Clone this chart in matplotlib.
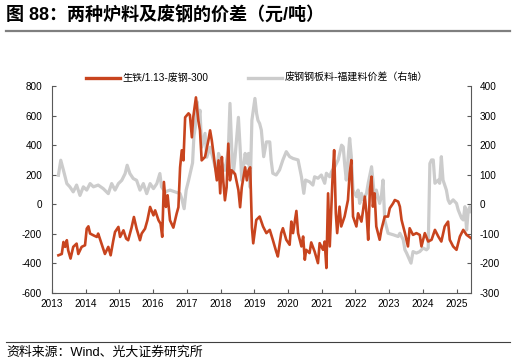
import numpy as np
import matplotlib.pyplot as plt
from matplotlib.lines import Line2D

plt.rcParams['font.family'] = ['Liberation Sans', 'Noto Sans CJK SC']
plt.rcParams['axes.unicode_minus'] = False

# 生铁/1.13-废钢-300 (left axis), decimal year
red_t = [2013.19, 2013.29, 2013.34, 2013.39, 2013.44, 2013.48, 2013.55, 2013.63, 2013.73, 2013.78,
         2013.88, 2013.98, 2014.03, 2014.08, 2014.13, 2014.23, 2014.33, 2014.37, 2014.47, 2014.57,
         2014.67, 2014.74, 2014.82, 2014.87, 2014.97, 2015.02, 2015.12, 2015.20, 2015.26, 2015.36,
         2015.43, 2015.51, 2015.61, 2015.66, 2015.76, 2015.83, 2015.91, 2016.01, 2016.06, 2016.16,
         2016.22, 2016.27, 2016.32, 2016.38, 2016.43, 2016.50, 2016.60, 2016.70, 2016.75, 2016.80,
         2016.85, 2016.90, 2016.95, 2017.05, 2017.09, 2017.15, 2017.19, 2017.27, 2017.34, 2017.39,
         2017.44, 2017.54, 2017.64, 2017.69, 2017.74, 2017.79, 2017.84, 2017.89, 2017.94, 2017.99,
         2018.04, 2018.08, 2018.13, 2018.18, 2018.23, 2018.28, 2018.33, 2018.43, 2018.53, 2018.58,
         2018.63, 2018.73, 2018.78, 2018.83, 2018.88, 2018.93, 2018.97, 2019.06, 2019.16, 2019.26,
         2019.36, 2019.46, 2019.55, 2019.65, 2019.70, 2019.80, 2019.85, 2019.95, 2020.05, 2020.10,
         2020.15, 2020.25, 2020.30, 2020.40, 2020.45, 2020.50, 2020.54, 2020.64, 2020.69, 2020.79,
         2020.89, 2020.94, 2021.04, 2021.09, 2021.14, 2021.19, 2021.24, 2021.32, 2021.37, 2021.42,
         2021.46, 2021.53, 2021.58, 2021.68, 2021.78, 2021.83, 2021.88, 2021.93, 2022.03, 2022.08,
         2022.18, 2022.23, 2022.28, 2022.33, 2022.38, 2022.43, 2022.48, 2022.52, 2022.57, 2022.62,
         2022.72, 2022.77, 2022.87, 2022.97, 2023.02, 2023.12, 2023.17, 2023.27, 2023.32, 2023.37,
         2023.47, 2023.56, 2023.61, 2023.71, 2023.81, 2023.91, 2023.96, 2024.06, 2024.16, 2024.26,
         2024.36, 2024.46, 2024.55, 2024.65, 2024.75, 2024.80, 2024.90, 2025.00, 2025.10, 2025.20,
         2025.30, 2025.43]
red_v = [-345, -336, -255, -288, -243, -311, -367, -288, -266, -336,
         -288, -277, -165, -149, -198, -210, -221, -198, -266, -336,
         -288, -345, -243, -187, -153, -221, -176, -232, -243, -158,
         -86, -165, -243, -198, -165, -108, -18, -75, -41, -108,
         -131, -220, 151, -18, 61, -108, -158, -61, -20, 250,
         365, 297, 588, 615, 604, 453, 588, 723, 568, 500,
         297, 320, 433, 500, 433, 345, 250, 162, 297, 74,
         320, 162, 27, 115, 410, 162, 230, 205, 95, -20,
         115, 250, 162, 230, 250, -155, -264, -106, -83, -150,
         -195, -173, -240, -319, -353, -195, -162, -240, -274, -117,
         -195, -45, -195, -285, -218, -375, -308, -330, -258, -319,
         -398, -263, -308, -252, -431, 74, -285, 164, 366, -61,
         -195, -16, -150, -83, 29, 209, 299, -83, -150, -61,
         -117, -38, 52, -61, -240, 97, 187, -16, 74, -150,
         -240, -173, -83, -83, -27, 7, 29, 18, -16, -106,
         -195, -285, -162, -207, -195, -207, -285, -195, -252, -240,
         -173, -218, -252, -150, -117, -240, -285, -308, -218, -173,
         -207, -229]

# 废钢钢板料-福建料价差 (right axis)
grey_t = [2013.19, 2013.26, 2013.34, 2013.44, 2013.53, 2013.63, 2013.73, 2013.83, 2013.93, 2014.03,
          2014.13, 2014.23, 2014.37, 2014.52, 2014.67, 2014.77, 2014.87, 2014.97, 2015.07, 2015.17,
          2015.23, 2015.31, 2015.41, 2015.51, 2015.61, 2015.71, 2015.81, 2015.91, 2016.01, 2016.11,
          2016.20, 2016.25, 2016.35, 2016.50, 2016.65, 2016.80, 2016.85, 2016.92, 2016.98, 2017.05,
          2017.12, 2017.17, 2017.21, 2017.25, 2017.31, 2017.34, 2017.39, 2017.44, 2017.54, 2017.59,
          2017.69, 2017.79, 2017.89, 2017.94, 2018.04, 2018.13, 2018.23, 2018.28, 2018.33, 2018.38,
          2018.43, 2018.53, 2018.58, 2018.63, 2018.73, 2018.78, 2018.83, 2018.88, 2018.93, 2019.02,
          2019.07, 2019.11, 2019.16, 2019.21, 2019.28, 2019.36, 2019.46, 2019.50, 2019.55, 2019.65,
          2019.75, 2019.85, 2019.95, 2020.05, 2020.15, 2020.30, 2020.40, 2020.47, 2020.52, 2020.64,
          2020.74, 2020.79, 2020.89, 2020.99, 2021.09, 2021.14, 2021.24, 2021.29, 2021.39, 2021.49,
          2021.59, 2021.64, 2021.68, 2021.73, 2021.78, 2021.83, 2021.88, 2021.93, 2022.03, 2022.08,
          2022.13, 2022.18, 2022.23, 2022.33, 2022.38, 2022.48, 2022.52, 2022.57, 2022.62, 2022.72,
          2022.77, 2022.82, 2022.87, 2022.97, 2023.12, 2023.27, 2023.32, 2023.42, 2023.47, 2023.52,
          2023.61, 2023.65, 2023.71, 2023.81, 2023.91, 2024.01, 2024.11, 2024.16, 2024.21, 2024.26,
          2024.31, 2024.36, 2024.46, 2024.50, 2024.55, 2024.60, 2024.70, 2024.75, 2024.80, 2024.90,
          2025.00, 2025.05, 2025.15, 2025.20, 2025.25, 2025.30, 2025.35, 2025.40, 2025.43]
grey_v = [98, 149, 115, 70, 59, 42, 65, 30, 59, 48,
          70, 59, 65, 53, 36, 70, 48, 70, 81, 104,
          132, 104, 87, 81, 48, 70, 36, 70, 53, 70,
          104, 59, 42, 48, 42, 36, 19, -15, 48, 80,
          115, 140, 230, 260, 346, 284, 318, 193, 240, 159,
          193, 149, 105, 172, 139, 115, 182, 341, 193, 105,
          159, 294, 193, 81, 172, 139, 172, 57, 284, 358,
          307, 284, 273, 251, 161, 211, 211, 150, 105, 99,
          116, 150, 178, 161, 155, 150, 93, 37, 82, 76,
          65, 93, 88, 99, 71, 105, 93, 110, 127, 150,
          200, 194, 138, 82, 150, 223, 161, 48, 26, 48,
          3, 37, 15, 37, 71, 127, 82, 15, 48, 3,
          26, 82, -53, -98, -103, -109, -98, -120, -154, -165,
          -188, -199, -160, -165, -160, -148, -154, -148, 138, 150,
          150, 71, 82, 71, 161, 82, 48, 15, 3, 15,
          3, -19, -47, -53, -8, -87, -19, -8, -25]

years = list(range(2013, 2026))
red_label = '生铁/1.13-废钢-300'
grey_label = '废钢钢板料-福建料价差（右轴）'

RED = '#C8441E'
GREY = '#CCCCCC'
SPINE = '#595959'

fig = plt.figure(figsize=(5.16, 3.63), dpi=100)
ax = fig.add_axes([52/516, 1-293/363, (471-52)/516, (293-86)/363])
ax2 = ax.twinx()
ax.set_zorder(ax2.get_zorder() + 1)
ax.patch.set_visible(False)

ax2.plot(grey_t, grey_v, color=GREY, lw=2.3, solid_joinstyle='round')
ax.plot(red_t, red_v, color=RED, lw=1.9, solid_joinstyle='round')

ax.set_xlim(2013, 2025.43)
ax.set_ylim(-600, 800)
ax2.set_ylim(-300, 400)
ax.set_yticks(np.arange(-600, 801, 200))
ax2.set_yticks(np.arange(-300, 401, 100))
ax.set_xticks(years)
ax.set_xticklabels([str(y) for y in years])

for a in (ax, ax2):
    a.spines['top'].set_visible(False)
    for s in ('left', 'right', 'bottom'):
        a.spines[s].set_color(SPINE)
        a.spines[s].set_linewidth(0.8)
ax.spines['right'].set_visible(False)
ax2.spines['left'].set_visible(False)
ax2.spines['bottom'].set_visible(False)

ax.tick_params(axis='y', direction='in', length=3, width=0.8, color=SPINE, labelsize=7.2, pad=7)
ax.tick_params(axis='x', direction='in', length=3, width=0.8, color=SPINE, labelsize=7.2, pad=4)
ax2.tick_params(axis='y', direction='in', length=3, width=0.8, color=SPINE, labelsize=7.2, pad=6)

handles = [Line2D([], [], color=RED, lw=2.4), Line2D([], [], color=GREY, lw=2.4)]
fig.legend(handles, [red_label, grey_label], loc='center', bbox_to_anchor=(257/516, 1-78/363),
           ncol=2, frameon=False, fontsize=7.2, handlelength=3.4, handletextpad=0.25,
           columnspacing=4.0, borderpad=0)

# title and footer
fig.text(6/516, 1-16/363, '图 88：两种炉料及废钢的价差（元/吨）', fontsize=13, fontweight='bold',
         va='center', ha='left', color='#000000')
fig.add_artist(Line2D([6/516, 510/516], [1-31/363, 1-31/363], color='#7f7f7f', lw=1.6))
fig.add_artist(Line2D([6/516, 510/516], [1-342/363, 1-342/363], color='#404040', lw=0.8))
fig.text(6/516, 1-353/363, '资料来源：Wind、光大证券研究所', fontsize=9.3,
         va='center', ha='left', color='#000000')

fig.savefig('out.png', dpi=100)
